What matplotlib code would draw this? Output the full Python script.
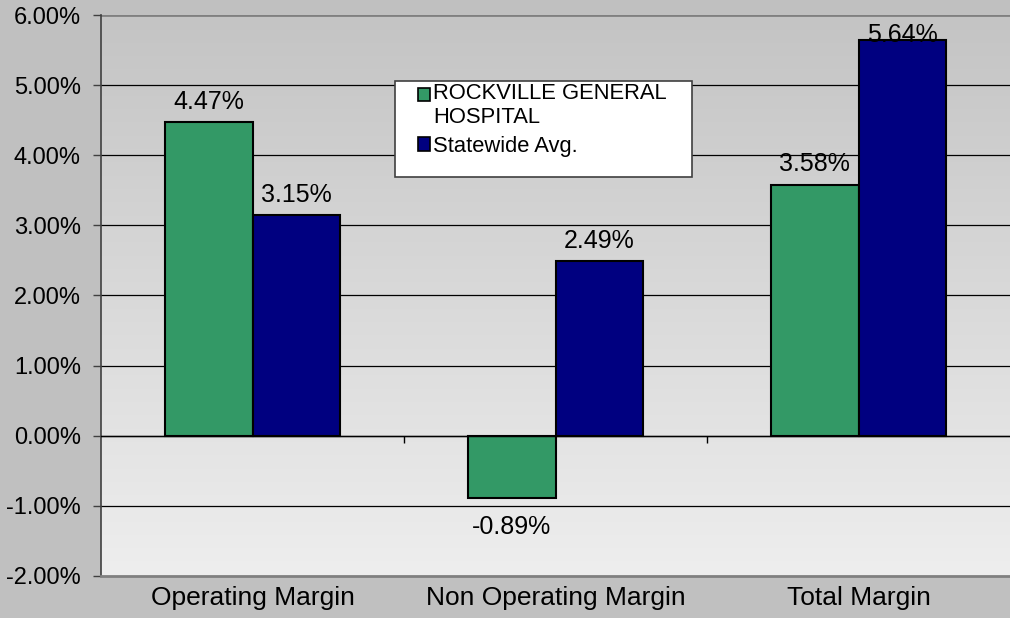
import matplotlib
matplotlib.use('Agg')
import matplotlib.pyplot as plt
import numpy as np

plt.rcParams['font.family'] = ['Liberation Sans', 'DejaVu Sans']

# data
categories = ['Operating Margin', 'Non Operating Margin', 'Total Margin']
hospital = [4.47, -0.89, 3.58]
statewide = [3.15, 2.49, 5.64]
series_names = ['ROCKVILLE GENERAL\nHOSPITAL', 'Statewide Avg.']
colors = ['#339966', '#000080']

fig = plt.figure(figsize=(10.10, 6.18), dpi=100)
fig.patch.set_facecolor('#c0c0c0')
ax = fig.add_axes([0.1, 0.068, 0.9, 0.9077])

ymin, ymax = -2, 6
ax.set_xlim(-0.5, 2.5)
ax.set_ylim(ymin, ymax)

# gradient background of the plot area (dark top -> light bottom)
grad = np.linspace(0, 1, 256).reshape(-1, 1)
cmap = matplotlib.colors.LinearSegmentedColormap.from_list('bg', ['#c4c4c4', '#eeeeee'])
ax.imshow(grad, extent=[-0.5, 2.5, ymin, ymax], origin='upper', aspect='auto',
          cmap=cmap, zorder=0)

# gridlines
for yv in range(ymin + 1, ymax):
    ax.axhline(yv, color='#000000', lw=0.9, zorder=1)
ax.axhline(ymax, color='#808080', lw=2, zorder=1)

x = np.arange(len(categories))
w = 0.29
b1 = ax.bar(x - w / 2, hospital, w, color=colors[0], edgecolor='black', lw=1.5,
            label=series_names[0], zorder=3)
b2 = ax.bar(x + w / 2, statewide, w, color=colors[1], edgecolor='black', lw=1.5,
            label=series_names[1], zorder=3)

# value labels (pulled down onto the bar end when they would leave the plot)
for bars, vals in [(b1, hospital), (b2, statewide)]:
    for r, v in zip(bars, vals):
        cx = r.get_x() + r.get_width() / 2
        if v >= 0:
            off = 6 if v + 0.47 <= ymax else -4.5
            ax.annotate('%.2f%%' % v, (cx, v), xytext=(0, off), textcoords='offset points',
                        ha='center', va='bottom', fontsize=18, zorder=5)
        else:
            ax.annotate('%.2f%%' % v, (cx, v), xytext=(0, -12), textcoords='offset points',
                        ha='center', va='top', fontsize=18, zorder=5)

# category axis crossing at zero
ax.axhline(0, color='black', lw=1, zorder=4)
ax.vlines(x[:-1] + 0.5, -0.11, 0, color='black', lw=1, zorder=4)

ax.set_yticks(range(ymin, ymax + 1))
ax.set_yticklabels(['%.2f%%' % t for t in range(ymin, ymax + 1)], fontsize=17)
ax.set_xticks(x)
ax.set_xticklabels(categories, fontsize=19)
ax.tick_params(axis='x', length=0, pad=7.5)
ax.tick_params(axis='y', length=5.5, width=1, direction='out', pad=9, color='#404040')

ax.spines['right'].set_visible(False)
ax.spines['top'].set_visible(False)
ax.spines['left'].set_color('#404040')
ax.spines['left'].set_linewidth(1.2)
ax.spines['bottom'].set_color('#808080')
ax.spines['bottom'].set_linewidth(2)

# legend box (white frame larger than the entries, as in the original)
box = plt.Rectangle((0.3234, 0.711), 0.3267, 0.171, transform=ax.transAxes,
                    facecolor='white', edgecolor='#404040', lw=1.2, zorder=6)
ax.add_patch(box)
leg = ax.legend(loc='upper left', bbox_to_anchor=(0.3487, 0.879), fontsize=15.8,
                frameon=False, handlelength=0.55, handleheight=0.55, handletextpad=0.15,
                borderpad=0, labelspacing=0.35, borderaxespad=0)
leg.set_zorder(7)
for h in leg.legend_handles:
    h.set_edgecolor('black')
    h.set_linewidth(1.2)
# first entry is two lines: keep its key level with the first line
h0 = leg.legend_handles[0]
h0.set_y(h0.get_y() + 8)

plt.savefig('out.png', dpi=100, facecolor=fig.get_facecolor())
